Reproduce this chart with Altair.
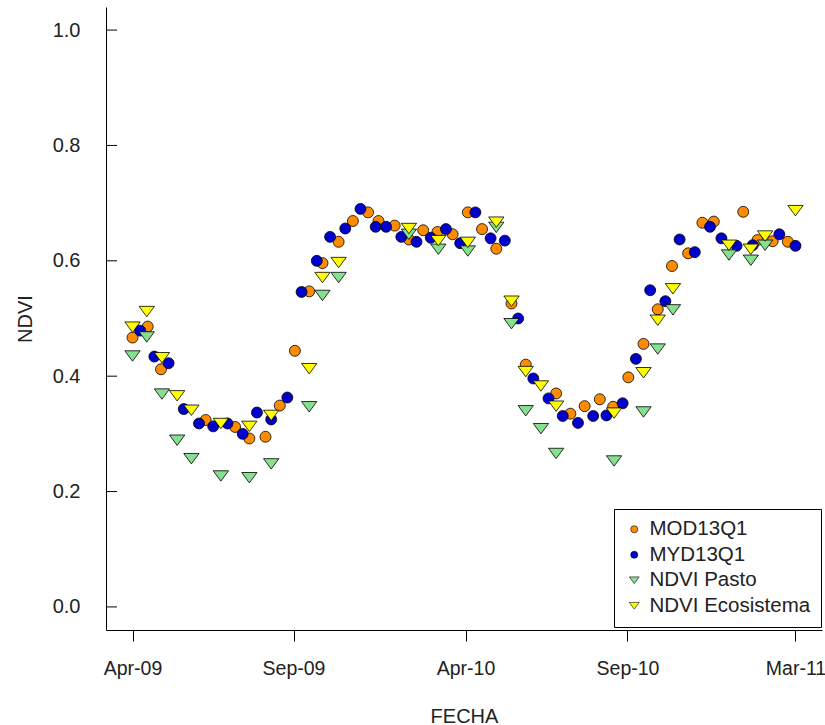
import altair as alt
import pandas as pd

mod_dia = [0, 16, 30, 77, 108, 123, 140, 155, 171, 186, 200, 217, 232, 248, 259, 276, 291, 306,
           321, 337, 353, 368, 383, 399, 414, 446, 461, 476, 492, 506, 522, 538, 553, 568, 585,
           600, 612, 643, 658, 674, 690]
mod_ndvi = [0.467, 0.486, 0.412, 0.324, 0.312, 0.292, 0.295, 0.349, 0.444, 0.547, 0.596, 0.633,
            0.669, 0.684, 0.669, 0.661, 0.637, 0.653, 0.650, 0.646, 0.684, 0.655, 0.621, 0.526,
            0.420, 0.370, 0.335, 0.348, 0.360, 0.347, 0.398, 0.456, 0.516, 0.591, 0.613, 0.666,
            0.668, 0.685, 0.636, 0.634, 0.633]

myd_dia = [8, 23, 38, 54, 70, 85, 100, 116, 131, 146, 163, 178, 194, 208, 224, 240, 256, 267,
           283, 299, 314, 330, 345, 361, 377, 392, 406, 422, 438, 453, 469, 485, 499, 516, 530,
           545, 561, 576, 592, 608, 620, 636, 653, 681, 698]
myd_ndvi = [0.479, 0.434, 0.4225, 0.343, 0.318, 0.313, 0.318, 0.300, 0.337, 0.325, 0.363, 0.546,
            0.600, 0.6415, 0.656, 0.690, 0.659, 0.659, 0.6415, 0.633, 0.640, 0.655, 0.6305, 0.684,
            0.639, 0.635, 0.500, 0.396, 0.3615, 0.331, 0.319, 0.331, 0.332, 0.353, 0.430, 0.549,
            0.530, 0.637, 0.615, 0.659, 0.639, 0.626, 0.627, 0.646, 0.626]

pasto_dia = [0, 15, 31, 47, 62, 93, 123, 146, 186, 200, 217, 291, 322, 353, 383, 399, 414, 430,
             446, 507, 538, 553, 569, 628, 651, 666]
pasto_ndvi = [0.435, 0.468, 0.369, 0.289, 0.257, 0.227, 0.224, 0.248, 0.347, 0.540, 0.571, 0.646,
              0.620, 0.617, 0.658, 0.491, 0.340, 0.309, 0.266, 0.253, 0.338, 0.447, 0.515, 0.610,
              0.601, 0.627]

eco_dia = [0, 15, 31, 47, 62, 93, 123, 146, 186, 200, 217, 291, 322, 353, 383, 399, 414, 430,
           446, 507, 538, 553, 569, 628, 651, 666, 698]
eco_ndvi = [0.485, 0.512, 0.432, 0.366, 0.341, 0.318, 0.313, 0.332, 0.413, 0.571, 0.597, 0.656,
            0.635, 0.632, 0.667, 0.530, 0.408, 0.383, 0.348, 0.336, 0.406, 0.497, 0.5515, 0.627,
            0.620, 0.643, 0.687]

series = ["MOD13Q1", "MYD13Q1", "NDVI Pasto", "NDVI Ecosistema"]
colors = ["#FF8C00", "#0000CD", "#86E08F", "#FFFF00"]
tri = "M-1.4,-0.95L1.4,-0.95L0,0.95Z"
shapes = ["circle", "circle", tri, tri]

x_tick_vals = [0, 169.5, 350.6, 521.1, 698]
x_tick_labels = ["Apr-09", "Sep-09", "Apr-10", "Sep-10", "Mar-11"]
y_tick_vals = [0.0, 0.2, 0.4, 0.6, 0.8, 1.0]

rows = []
for name, xs, ys in zip(series, [mod_dia, myd_dia, pasto_dia, eco_dia],
                        [mod_ndvi, myd_ndvi, pasto_ndvi, eco_ndvi]):
    for xv, yv in zip(xs, ys):
        rows.append({"dia": xv, "ndvi": yv, "serie": name})
df = pd.DataFrame(rows)

span = max(x_tick_vals) - min(x_tick_vals)
xscale = alt.Scale(domain=[-0.04 * span, span * 1.04], nice=False, zero=False)
yscale = alt.Scale(domain=[-0.04, 1.04], nice=False, zero=False)

label_expr = ""
for v, l in zip(x_tick_vals, x_tick_labels):
    label_expr += f"abs(datum.value - {v}) < 0.01 ? '{l}' : "
label_expr += "''"

FONT = "Liberation Sans"
TXT = "#222"

xaxis = alt.Axis(values=x_tick_vals, labelExpr=label_expr, title="FECHA",
                 grid=False, domainColor="black", domainWidth=1,
                 tickColor="black", tickSize=11, tickWidth=1,
                 labelFont=FONT, labelFontSize=19.5, labelColor=TXT,
                 labelBaseline="alphabetic", labelPadding=33, labelFlush=False,
                 titleFont=FONT, titleFontSize=20, titleFontWeight="normal",
                 titleColor=TXT, titleBaseline="alphabetic", titleY=92)
yaxis = alt.Axis(values=y_tick_vals, format=".1f", title="NDVI",
                 grid=False, domainColor="black", domainWidth=1,
                 ticks=False, labelPadding=26,
                 labelFont=FONT, labelFontSize=20, labelColor=TXT,
                 titleFont=FONT, titleFontSize=20, titleFontWeight="normal",
                 titleColor=TXT, titleBaseline="middle", titleX=-81)

leg = dict(title=None, orient="none", legendX=508, legendY=502,
           padding=10, rowPadding=4.5, labelFont=FONT, labelLimit=400,
           labelFontSize=20.5, labelColor=TXT, labelOffset=5,
           symbolSize=50, fillColor="white", strokeColor="black",
           symbolStrokeColor="black", symbolStrokeWidth=0.6)

points = alt.Chart(df).mark_point(
    filled=True, opacity=1, size=120, stroke="black", strokeWidth=0.8
).encode(
    x=alt.X("dia:Q", scale=xscale, axis=xaxis),
    y=alt.Y("ndvi:Q", scale=yscale, axis=yaxis),
    color=alt.Color("serie:N", scale=alt.Scale(domain=series, range=colors),
                    legend=alt.Legend(**leg)),
    shape=alt.Shape("serie:N", scale=alt.Scale(domain=series, range=shapes),
                    legend=alt.Legend(**leg)),
    order=alt.Order("o:Q"),
).transform_calculate(
    o="indexof(['MOD13Q1','MYD13Q1','NDVI Pasto','NDVI Ecosistema'], datum.serie)"
)

ytick_df = pd.DataFrame({"v": y_tick_vals})
yticks = alt.Chart(ytick_df).mark_rule(color="black", strokeWidth=1).encode(
    y=alt.Y("v:Q", scale=yscale, axis=yaxis),
    x=alt.value(0), x2=alt.value(11),
)

chart = alt.layer(yticks, points).properties(
    width=716, height=623,
    background="white",
    view=alt.ViewBackground(strokeOpacity=0, strokeWidth=0),
    autosize=alt.AutoSizeParams(type="none"),
    padding={"left": 106, "top": 7, "right": 3, "bottom": 95},
).configure_view(strokeWidth=0, strokeOpacity=0)

chart.save("out.html", embed_options={"renderer": "svg", "actions": False})
